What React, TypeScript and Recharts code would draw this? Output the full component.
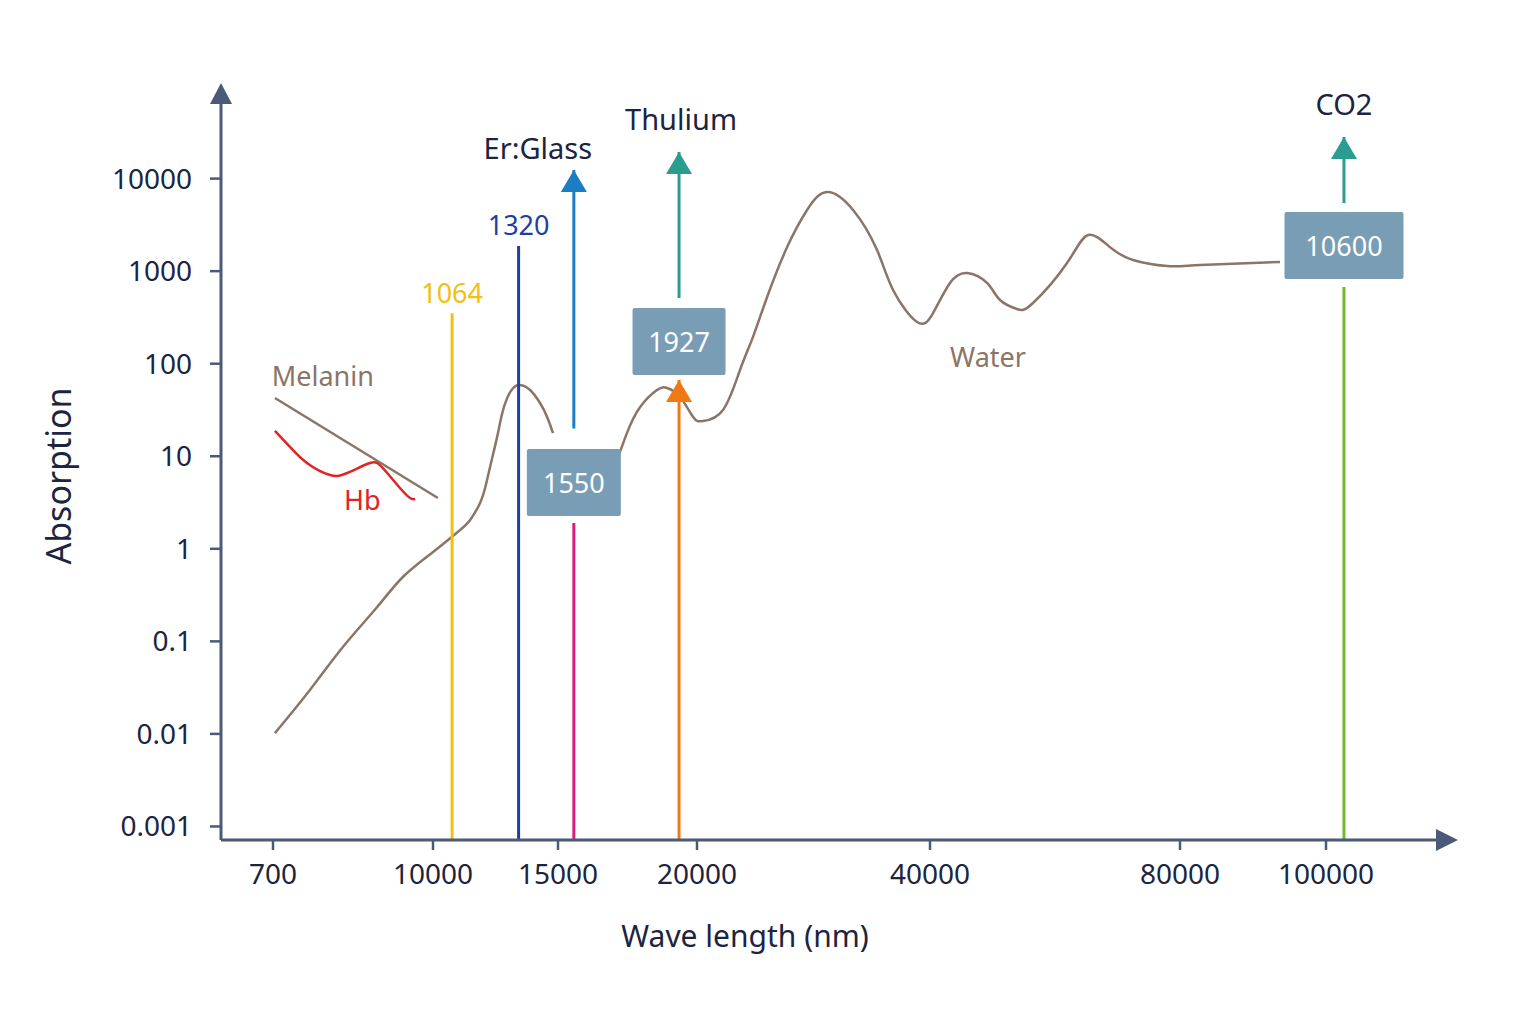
import { ComposedChart, Line, XAxis, YAxis, ReferenceLine, ReferenceDot } from 'recharts'

const FONT = '"Noto Sans", "Open Sans", sans-serif'
const AXIS = '#4a5a77'
const INK = '#1b2440'
const BROWN = '#8b7566'
const BOX = '#7a9db6'

// wavelength axis (nm): log segments between the labelled ticks, each with its own length
const xStops = [623, 700, 1000, 1500, 2000, 4000, 8000, 10000, 14330]
const xSpans = [52, 160, 125, 139, 233, 250, 146, 111]
const xTicks = [700, 1000, 1500, 2000, 4000, 8000, 10000]
const xTickLabels = ['700', '10000', '15000', '20000', '40000', '80000', '100000']

// absorption axis, logarithmic
const yDomain = [0.000714, 65600]
const yTicks = [0.001, 0.01, 0.1, 1, 10, 100, 1000, 10000]
const yTickLabels = ['0.001', '0.01', '0.1', '1', '10', '100', '1000', '10000']

type Pt = { wl: number; a: number }
const pts = (rows: number[][]): Pt[] => rows.map(([wl, a]) => ({ wl, a }))

// water absorption, split where the 1550 box sits over it
const waterShort = pts([
  [703, 0.0102], [760, 0.0298], [818, 0.087], [883, 0.235], [935, 0.496], [1000, 0.923],
  [1092, 1.6], [1128, 2.05], [1165, 3.13], [1188, 5.01], [1207, 8.46], [1231, 16.1],
  [1251, 28.6], [1272, 42.6], [1297, 54.6], [1326, 58.9], [1370, 52], [1415, 37.6],
  [1448, 26.6], [1476, 17.8],
])
const waterLong = pts([
  [1681, 6.8], [1730, 17.8], [1778, 34.1], [1841, 52], [1880, 54.6], [1931, 43.7],
  [1984, 26.6], [2036, 24], [2161, 31.6], [2273, 85.5], [2362, 194], [2464, 526],
  [2615, 1820], [2775, 4580], [2945, 7170], [3182, 4580], [3417, 1690], [3584, 626],
  [3849, 282], [4034, 353], [4228, 745], [4432, 955], [4685, 745], [4857, 488],
  [5091, 390], [5322, 453], [5849, 1225], [6200, 2460], [6588, 1820], [7022, 1320],
  [7717, 1137], [8249, 1166], [9321, 1256],
])
const melanin = pts([[703, 42.6], [1016, 3.54]])
const hemoglobin = pts([
  [703, 18.8], [727, 12.6], [755, 8.46], [795, 6.27], [826, 6.59], [863, 8.25],
  [883, 8.46], [903, 6.59], [929, 4.54], [950, 3.54], [961, 3.45],
])

// curve captions, anchored in data space
const captionText = ['Melanin', 'Water', 'Hb']
const captionAt = [[698, 73.7], [4698, 121], [854, 3.37]]

// laser lines: stem from the axis, optional box, optional beam arrow with title
const laserWl = [1064, 1320, 1550, 1927, 10600]
const laserName = ['1064', '1320', '1550', '1927', '10600']
const laserTitle = ['', '', 'Er:Glass', 'Thulium', 'CO2']
const laserStemTop = [350, 1870, 1.9, 66.7, 674]
const laserBoxAt = [0, 0, 5.2, 174, 1890]
const laserBeamFrom = [0, 0, 20, 513, 5450]
const laserBeamTip = [0, 0, 12400, 19400, 28200]

const captionStyle = [
  { color: BROWN, anchor: 'start' },
  { color: BROWN, anchor: 'middle' },
  { color: '#e02424', anchor: 'middle' },
]

const laserStyle = [
  { stem: '#f2c012', beam: '', stemArrow: false, boxW: 0, dx: 0, dy: 0 },
  { stem: '#1d3fa5', beam: '', stemArrow: false, boxW: 0, dx: 0, dy: 0 },
  { stem: '#d81f7e', beam: '#1b7ec3', stemArrow: false, boxW: 94, dx: -36, dy: -22 },
  { stem: '#f07a12', beam: '#2a9d90', stemArrow: true, boxW: 93, dx: 2, dy: -33 },
  { stem: '#72b92e', beam: '#2a9d90', stemArrow: false, boxW: 119, dx: 0, dy: -33 },
]

function segmentedLogScale(stops: number[], spans: number[]) {
  const total = spans.reduce((s, v) => s + v, 0)
  const cum = [0]
  spans.forEach((v) => cum.push(cum[cum.length - 1] + v / total))
  let dom = [stops[0], stops[stops.length - 1]]
  let rng = [0, 1]
  const frac = (v: number) => {
    let i = 0
    while (i < stops.length - 2 && v > stops[i + 1]) i++
    const t = Math.log(v / stops[i]) / Math.log(stops[i + 1] / stops[i])
    return cum[i] + t * (cum[i + 1] - cum[i])
  }
  const scale: any = (v: number) => rng[0] + frac(v) * (rng[1] - rng[0])
  scale.domain = (d?: number[]) => (d ? ((dom = d), scale) : dom)
  scale.range = (r?: number[]) => (r ? ((rng = r), scale) : rng)
  scale.copy = () => segmentedLogScale(stops, spans).domain(dom).range(rng)
  scale.ticks = () => stops.slice(1, -1)
  return scale
}

const wavelengthScale = segmentedLogScale(xStops, xSpans)
const xDomain = [xStops[0], xStops[xStops.length - 1]]

const arrowHead = (color: string, title = '', dx = 0, dy = 0) => (p: any) => (
  <g>
    <polygon points={`${p.cx},${p.cy} ${p.cx - 13},${p.cy + 22} ${p.cx + 13},${p.cy + 22}`} fill={color} />
    {title ? (
      <text x={p.cx + dx} y={p.cy + dy} textAnchor="middle" dominantBaseline="central"
        fill={INK} fontSize={29} fontFamily={FONT}>{title}</text>
    ) : null}
  </g>
)

const labelBox = (text: string, w: number) => (p: any) => (
  <g>
    <rect x={p.cx - w / 2} y={p.cy - 33.5} width={w} height={67} rx={2} fill={BOX} />
    <text x={p.cx} y={p.cy} textAnchor="middle" dominantBaseline="central"
      fill="#ffffff" fontSize={27} fontFamily={FONT}>{text}</text>
  </g>
)

const stemLabel = (text: string, color: string) => (p: any) => (
  <text x={p.cx} y={p.cy - 21} textAnchor="middle" dominantBaseline="central"
    fill={color} fontSize={27} fontFamily={FONT}>{text}</text>
)

const caption = (text: string, color: string, anchor: string) => (p: any) => (
  <text x={p.cx} y={p.cy} textAnchor={anchor as any} dominantBaseline="central"
    fill={color} fontSize={27} fontFamily={FONT}>{text}</text>
)

const yArrow = (p: any) => (
  <polygon points={`${p.cx},${p.cy - 20} ${p.cx - 11},${p.cy + 1} ${p.cx + 11},${p.cy + 1}`} fill={AXIS} />
)
const xArrow = (p: any) => (
  <polygon points={`${p.cx + 21},${p.cy} ${p.cx - 1},${p.cy - 11} ${p.cx - 1},${p.cy + 11}`} fill={AXIS} />
)

const xTitle = (props: any) => {
  const vb = props.viewBox
  return (
    <text x={vb.x + 524} y={vb.y + 95} textAnchor="middle" dominantBaseline="central"
      fill={INK} fontSize={30} fontFamily={FONT}>Wave length (nm)</text>
  )
}
const yTitle = (props: any) => {
  const vb = props.viewBox
  const cx = vb.x + 50
  const cy = vb.y + 373
  return (
    <text x={cx} y={cy} transform={`rotate(-90 ${cx} ${cy})`} textAnchor="middle" dominantBaseline="central"
      fill={INK} fontSize={34} fontFamily={FONT}>Absorption</text>
  )
}

export default function App() {
  return (
    <div style={{ width: 1520, height: 1000, background: '#ffffff' }}>
      <ComposedChart width={1520} height={1000} margin={{ top: 95, right: 91, bottom: 48, left: 0 }}>
        <XAxis type="number" dataKey="wl" scale={wavelengthScale} domain={xDomain} allowDataOverflow
          ticks={xTicks} interval={0} tickFormatter={(v: number) => xTickLabels[xTicks.indexOf(v)]}
          tick={{ fill: INK, fontSize: 28, fontFamily: FONT }} tickSize={10} tickMargin={14}
          axisLine={{ stroke: AXIS, strokeWidth: 3 }} tickLine={{ stroke: AXIS, strokeWidth: 2.5 }}
          height={120} label={{ value: 'Wave length (nm)', content: xTitle }} />
        <YAxis type="number" dataKey="a" scale="log" domain={yDomain} allowDataOverflow
          ticks={yTicks} interval={0} tickFormatter={(v: number) => yTickLabels[yTicks.indexOf(v)]}
          tick={{ fill: INK, fontSize: 28, fontFamily: FONT }} tickSize={11} tickMargin={18}
          axisLine={{ stroke: AXIS, strokeWidth: 3 }} tickLine={{ stroke: AXIS, strokeWidth: 2.5 }}
          width={213} label={{ value: 'Absorption', content: yTitle }} />

        <Line data={melanin} dataKey="a" type="linear" stroke={BROWN} strokeWidth={2.5}
          dot={false} activeDot={false} isAnimationActive={false} />
        <Line data={hemoglobin} dataKey="a" type="natural" stroke="#e02424" strokeWidth={2.5}
          dot={false} activeDot={false} isAnimationActive={false} />
        <Line data={waterShort} dataKey="a" type="natural" stroke={BROWN} strokeWidth={2.5}
          dot={false} activeDot={false} isAnimationActive={false} />
        <Line data={waterLong} dataKey="a" type="natural" stroke={BROWN} strokeWidth={2.5}
          dot={false} activeDot={false} isAnimationActive={false} />

        {laserWl.map((wl, i) => (
          <ReferenceLine key={`stem-${i}`} ifOverflow="visible" stroke={laserStyle[i].stem} strokeWidth={3}
            segment={[{ x: wl, y: yDomain[0] }, { x: wl, y: laserStemTop[i] }]} />
        ))}
        {laserWl.map((wl, i) =>
          laserBeamTip[i] ? (
            <ReferenceLine key={`beam-${i}`} ifOverflow="visible" stroke={laserStyle[i].beam} strokeWidth={3}
              segment={[{ x: wl, y: laserBeamFrom[i] }, { x: wl, y: laserBeamTip[i] }]} />
          ) : null,
        )}
        {laserWl.map((wl, i) =>
          laserBoxAt[i] ? (
            <ReferenceDot key={`box-${i}`} x={wl} y={laserBoxAt[i]} ifOverflow="visible"
              shape={labelBox(laserName[i], laserStyle[i].boxW)} />
          ) : (
            <ReferenceDot key={`num-${i}`} x={wl} y={laserStemTop[i]} ifOverflow="visible"
              shape={stemLabel(laserName[i], laserStyle[i].stem)} />
          ),
        )}
        {laserWl.map((wl, i) =>
          laserStyle[i].stemArrow ? (
            <ReferenceDot key={`stemhead-${i}`} x={wl} y={laserStemTop[i]} ifOverflow="visible"
              shape={arrowHead(laserStyle[i].stem)} />
          ) : null,
        )}
        {laserWl.map((wl, i) =>
          laserBeamTip[i] ? (
            <ReferenceDot key={`beamhead-${i}`} x={wl} y={laserBeamTip[i]} ifOverflow="visible"
              shape={arrowHead(laserStyle[i].beam, laserTitle[i], laserStyle[i].dx, laserStyle[i].dy)} />
          ) : null,
        )}

        {captionText.map((t, i) => (
          <ReferenceDot key={`cap-${i}`} x={captionAt[i][0]} y={captionAt[i][1]} ifOverflow="visible"
            shape={caption(t, captionStyle[i].color, captionStyle[i].anchor)} />
        ))}

        <ReferenceDot x={xDomain[0]} y={yDomain[1]} ifOverflow="visible" shape={yArrow} />
        <ReferenceDot x={xDomain[1]} y={yDomain[0]} ifOverflow="visible" shape={xArrow} />
      </ComposedChart>
    </div>
  )
}
